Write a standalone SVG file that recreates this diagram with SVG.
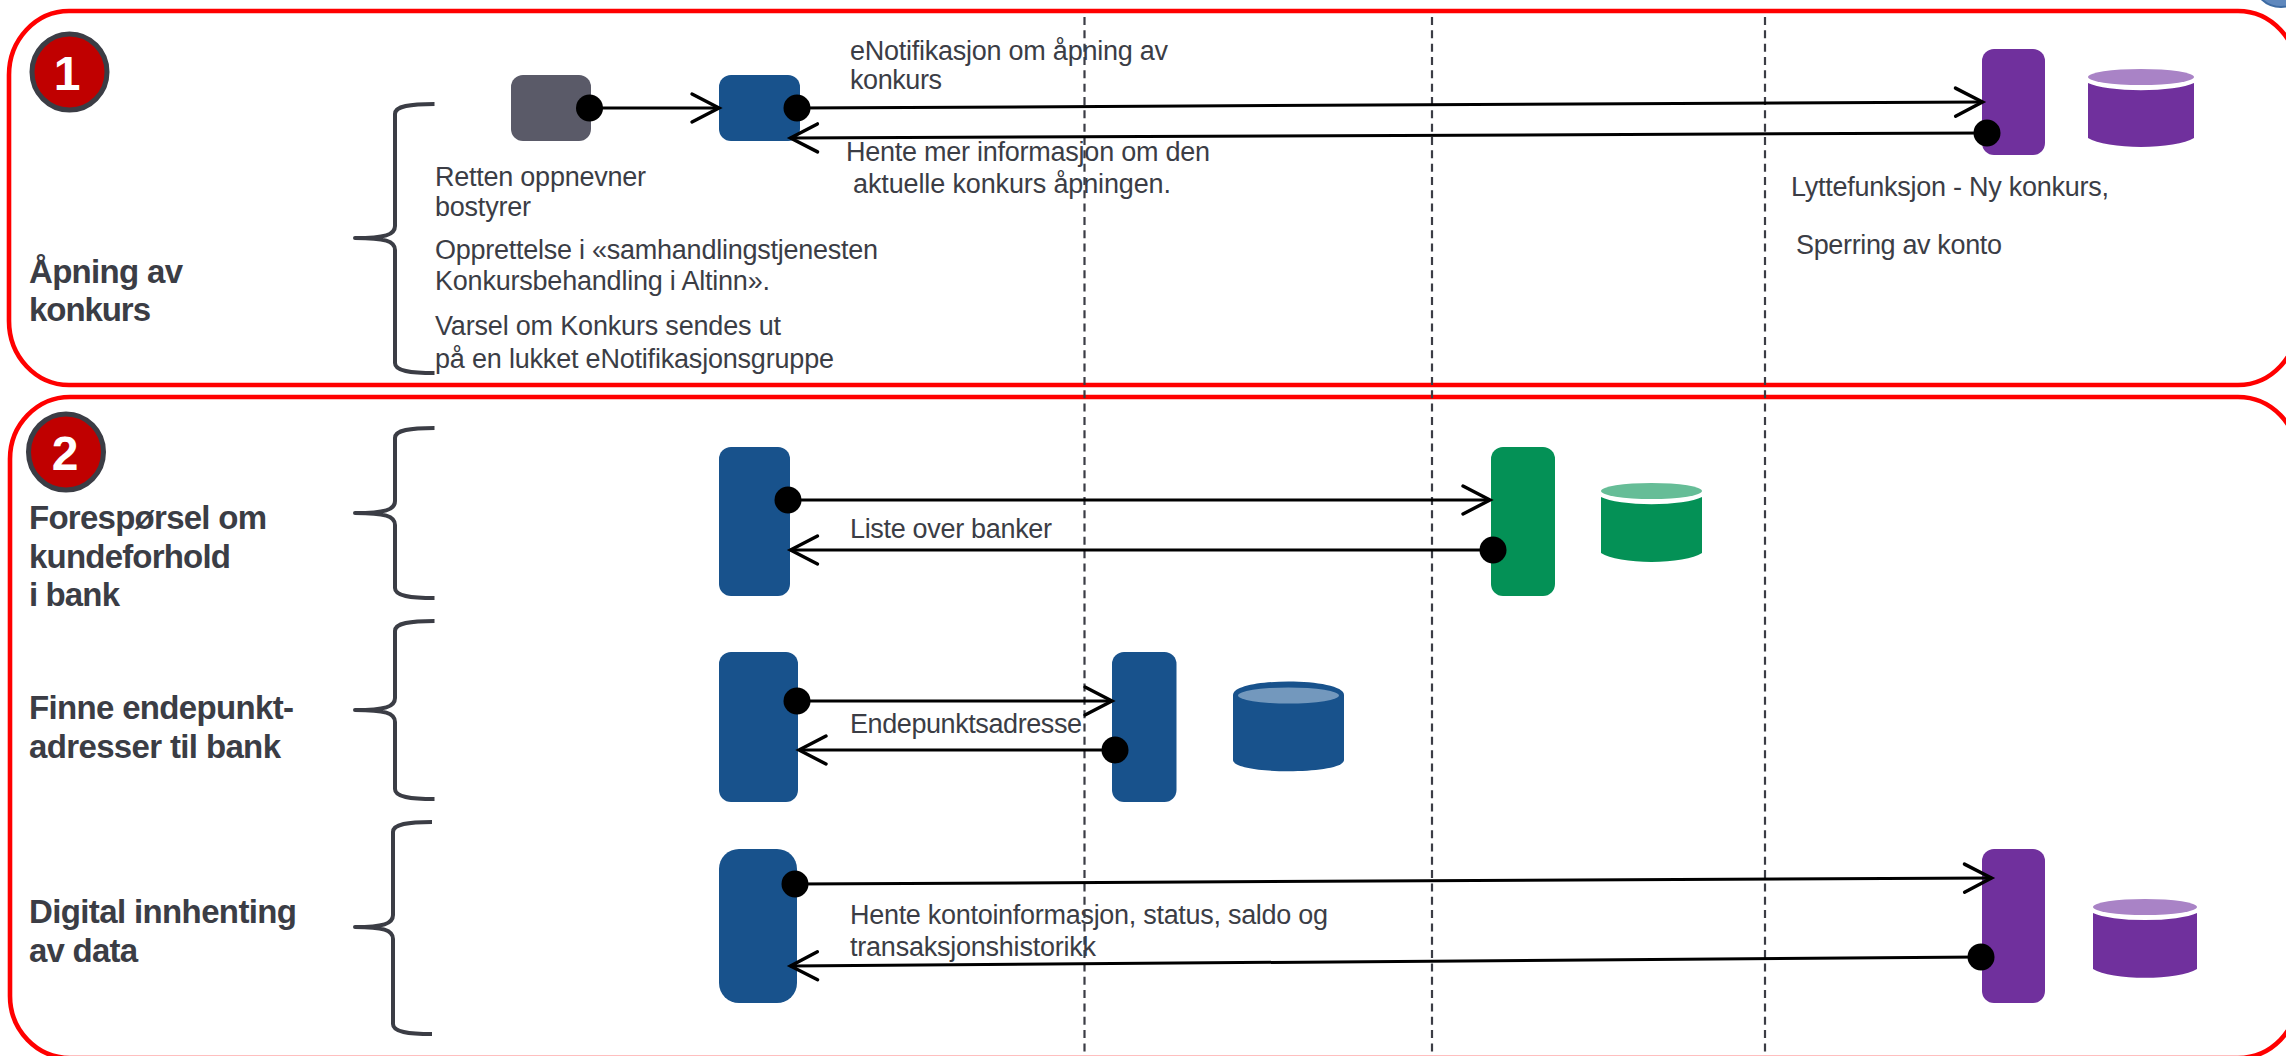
<svg xmlns="http://www.w3.org/2000/svg" width="2286" height="1056" viewBox="0 0 2286 1056">
<style>
.panel{fill:none;stroke:#ff0000;stroke-width:4.6}
.dash{stroke:#3b3d45;stroke-width:2.2;stroke-dasharray:8 5.33;fill:none}
.brace{fill:none;stroke:#3b3d45;stroke-width:4;stroke-linejoin:round}
.badge{fill:#c00000;stroke:#3b3d45;stroke-width:5}
.num{font:bold 48px "Liberation Sans",Arial,sans-serif;fill:#fff;text-anchor:middle}
.h{font:bold 33px "Liberation Sans",Arial,sans-serif;fill:#3b3d45}
.t{font:27px "Liberation Sans",Arial,sans-serif;fill:#3b3d45}
.gray{fill:#5a5a68}.blue{fill:#18528c}.green{fill:#049156}.purple{fill:#70309d}
.lblue{fill:#7398bd}.lgreen{fill:#66bd97}.lpurple{fill:#a983c6}
.c{fill:none;stroke:#000;stroke-width:3;marker-start:url(#dot);marker-end:url(#open)}
</style>
<defs>
<marker id="open" markerUnits="userSpaceOnUse" markerWidth="40" markerHeight="40" viewBox="-34 -20 40 40" refX="0" refY="0" orient="auto"><path d="M-27,-14 L0,0 L-27,14" fill="none" stroke="#000" stroke-width="3.4" stroke-linecap="round"/></marker>
<marker id="dot" markerUnits="userSpaceOnUse" markerWidth="30" markerHeight="30" viewBox="-15 -15 30 30" refX="0" refY="0" orient="auto"><circle r="13.5" fill="#000"/></marker>
</defs>
<rect width="2286" height="1056" fill="#fff"/>
<g id="corner"><ellipse cx="2281" cy="-23" rx="29" ry="30" fill="#5f88bd" stroke="#3d6ba3" stroke-width="2"/></g>
<g id="panels">
<rect class="panel" x="9" y="11" width="2289" height="374" rx="60" ry="64"/>
<rect class="panel" x="10" y="397" width="2288" height="661" rx="60" ry="62"/>
</g>
<g id="lifelines">
<path class="dash" d="M1084.5,17V1056"/>
<path class="dash" d="M1432,17V1056"/>
<path class="dash" d="M1765,17V1056"/>
</g>
<g id="badge-1"><ellipse class="badge" cx="69.5" cy="72" rx="37.5" ry="38"/><text class="num" x="67" y="90">1</text></g>
<g id="badge-2"><ellipse class="badge" cx="66" cy="452" rx="37.5" ry="38"/><text class="num" x="65" y="470">2</text></g>
<g id="braces">
<path class="brace" d="M434.5,104C410,104 395,106 395,114V226C395,235 385,238 355,238C385,238 395,241 395,250V363C395,371 410,373 434.5,373"/>
<path class="brace" d="M434.5,428C410,428 395,430 395,438V501C395,510 385,513 355,513C385,513 395,516 395,525V588C395,596 410,598 434.5,598"/>
<path class="brace" d="M434.5,621C410,621 395,623 395,631V698C395,707 385,710 355,710C385,710 395,713 395,722V789C395,797 410,799 434.5,799"/>
<path class="brace" d="M432,822C408,822 393,824 393,832V915C393,924 383,927 355,927C383,927 393,930 393,939V1024C393,1032 408,1034 432,1034"/>
</g>
<g id="node-retten"><rect class="gray" x="511" y="75" width="80" height="66" rx="12"/></g>
<g id="node-altinn-1"><rect class="blue" x="719" y="75" width="81" height="66" rx="12"/></g>
<g id="node-lytte"><rect class="purple" x="1982" y="49" width="63" height="106" rx="12"/></g>
<g id="db-lytte"><path class="purple" d="M2088,83A58,12 0 0 0 2194,83V138A58,15 0 0 1 2088,138Z"/><ellipse class="lpurple" cx="2141" cy="77" rx="53" ry="8"/></g>
<g id="node-altinn-2"><rect class="blue" x="719" y="447" width="71" height="149" rx="12"/></g>
<g id="node-register"><rect class="green" x="1491" y="447" width="64" height="149" rx="12"/></g>
<g id="db-register"><path class="green" d="M1601,497A55,12 0 0 0 1702,497V553A55,15 0 0 1 1601,553Z"/><ellipse class="lgreen" cx="1651.500" cy="491" rx="50.500" ry="8"/></g>
<g id="node-altinn-3"><rect class="blue" x="719" y="652" width="79" height="150" rx="12"/></g>
<g id="node-endepunkt"><rect class="blue" x="1112" y="652" width="64.500" height="150" rx="12"/></g>
<g id="db-endepunkt"><path class="blue" d="M1233,695C1233,677 1344,677 1344,695V760C1344,775 1233,775 1233,760Z"/><ellipse class="lblue" cx="1288.500" cy="695.500" rx="50.500" ry="8"/></g>
<g id="node-altinn-4"><rect class="blue" x="719" y="849" width="78" height="154" rx="20"/></g>
<g id="node-bank"><rect class="purple" x="1982" y="849" width="63" height="154" rx="12"/></g>
<g id="db-bank"><path class="purple" d="M2093,913A57,12 0 0 0 2197,913V969A57,15 0 0 1 2093,969Z"/><ellipse class="lpurple" cx="2145" cy="907" rx="52" ry="8"/></g>
<g id="connectors">
<path class="c" d="M589.500,108H719"/>
<path class="c" d="M797,108L1982.500,102"/>
<path class="c" d="M1987,133L790.500,138"/>
<path class="c" d="M788,500H1490"/>
<path class="c" d="M1493,550H790.500"/>
<path class="c" d="M797,701H1112"/>
<path class="c" d="M1115,750H799"/>
<path class="c" d="M795,884L1991.500,878"/>
<path class="c" d="M1981,957L790.500,966"/>
</g>
<g id="labels" transform="translate(0,1)">
<text class="h" x="29" y="282" textLength="154">Åpning av</text>
<text class="h" x="29" y="320" textLength="122">konkurs</text>
<text class="h" x="29" y="528" textLength="238">Forespørsel om</text>
<text class="h" x="29" y="567" textLength="202">kundeforhold</text>
<text class="h" x="29" y="605" textLength="91">i bank</text>
<text class="h" x="29" y="718" textLength="265">Finne endepunkt-</text>
<text class="h" x="29" y="757" textLength="252">adresser til bank</text>
<text class="h" x="29" y="922" textLength="268">Digital innhenting</text>
<text class="h" x="29" y="961" textLength="109">av data</text>
<text class="t" x="435" y="185" textLength="211">Retten oppnevner</text>
<text class="t" x="435" y="215" textLength="96">bostyrer</text>
<text class="t" x="435" y="258" textLength="443">Opprettelse i «samhandlingstjenesten</text>
<text class="t" x="435" y="289" textLength="335">Konkursbehandling i Altinn».</text>
<text class="t" x="435" y="334" textLength="346">Varsel om Konkurs sendes ut</text>
<text class="t" x="435" y="367" textLength="399">på en lukket eNotifikasjonsgruppe</text>
<text class="t" x="850" y="59" textLength="318">eNotifikasjon om åpning av</text>
<text class="t" x="850" y="88" textLength="92">konkurs</text>
<text class="t" x="846" y="160" textLength="364">Hente mer informasjon om den</text>
<text class="t" x="853" y="192" textLength="318">aktuelle konkurs åpningen.</text>
<text class="t" x="1791" y="195" textLength="318">Lyttefunksjon - Ny konkurs,</text>
<text class="t" x="1796" y="253" textLength="206">Sperring av konto</text>
<text class="t" x="850" y="537" textLength="202">Liste over banker</text>
<text class="t" x="850" y="732" textLength="232">Endepunktsadresse</text>
<text class="t" x="850" y="923" textLength="478">Hente kontoinformasjon, status, saldo og</text>
<text class="t" x="850" y="955" textLength="246">transaksjonshistorikk</text>
</g>
</svg>
